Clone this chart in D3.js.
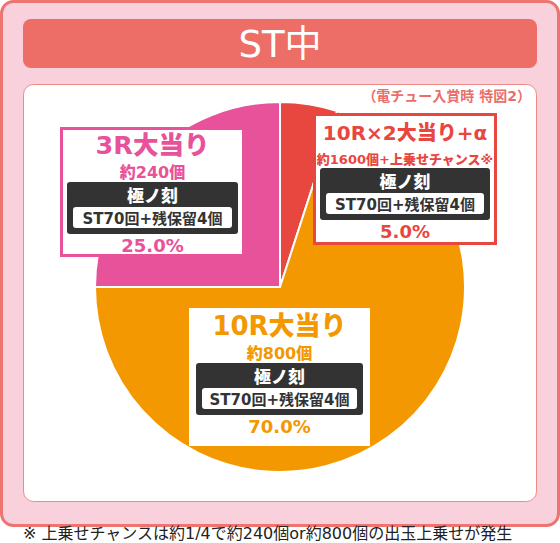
<!DOCTYPE html>
<html>
<head>
<meta charset="utf-8">
<script src="https://cdn.jsdelivr.net/npm/d3@7"></script>
<style>
  html, body { margin: 0; padding: 0; background: #fff; }
  svg { display: block; }
  text { font-family: "DejaVu Sans", "Noto Sans CJK JP", sans-serif; }
</style>
</head>
<body>
<svg id="chart" width="560" height="543"></svg>
<script>
// chart values, in pie order (clockwise from 12 o'clock)
var categories = ['10R×2大当り+α', '10R大当り', '3R大当り'];
var shares = [5.0, 70.0, 25.0];
var payouts = ['約1600個+上乗せチャンス※', '約800個', '約240個'];
var modes = ['極ノ刻', '極ノ刻', '極ノ刻'];
var details = ['ST70回+残保留4個', 'ST70回+残保留4個', 'ST70回+残保留4個'];

var title = 'ST中';
var note = '（電チュー入賞時 特図2）';
var footnote = '※ 上乗せチャンスは約1/4で約240個or約800個の出玉上乗せが発生';

var sliceColors = ['#e8473f', '#f39800', '#e8529a'];

// label box placement, same order as categories
var boxes = [
  { x: 313, y: 113, w: 184, h: 132, titleSize: 20, subSize: 13, border: 3 },
  { x: 189, y: 308, w: 181, h: 138, titleSize: 26, subSize: 16, border: 0 },
  { x: 60, y: 127, w: 185, h: 130, titleSize: 25.5, subSize: 16, border: 3 }
];

var svg = d3.select('#chart');

const cx = 280, cy = 287, radius = 185;

// frame
svg.append('rect')
  .attr('x', 1.5).attr('y', 1.5)
  .attr('width', 557).attr('height', 524)
  .attr('rx', 12)
  .attr('fill', '#f9d1dc')
  .attr('stroke', '#ee7470')
  .attr('stroke-width', 3);

svg.append('rect')
  .attr('x', 23).attr('y', 19)
  .attr('width', 514).attr('height', 49)
  .attr('rx', 8)
  .attr('fill', '#ec6e66');

svg.append('text')
  .attr('x', 280).attr('y', 57)
  .attr('text-anchor', 'middle')
  .attr('font-size', 37)
  .attr('fill', '#fff')
  .text(title);

svg.append('rect')
  .attr('x', 23.5).attr('y', 84.5)
  .attr('width', 513).attr('height', 417)
  .attr('rx', 10)
  .attr('fill', '#fff')
  .attr('stroke', '#f08a84')
  .attr('stroke-width', 1);

svg.append('text')
  .attr('x', 531).attr('y', 101)
  .attr('text-anchor', 'end')
  .attr('font-size', 14)
  .attr('font-weight', 700)
  .attr('fill', '#e8706a')
  .text(note);

// pie
var pie = d3.pie().sort(null).value(d => d);
var arc = d3.arc().innerRadius(0).outerRadius(radius);

svg.append('g')
  .attr('transform', `translate(${cx},${cy})`)
  .selectAll('path')
  .data(pie(shares))
  .enter()
  .append('path')
  .attr('d', arc)
  .attr('fill', (d, i) => sliceColors[i])
  .attr('stroke', '#fff')
  .attr('stroke-width', 2)
  .attr('stroke-linejoin', 'round');

// labels
var labelSel = svg.selectAll('.label')
  .data(categories.map((c, i) => ({ i: i, name: c, box: boxes[i] })))
  .enter()
  .append('g')
  .classed('label', true)
  .attr('transform', d => `translate(${d.box.x},${d.box.y})`);

labelSel.append('rect')
  .attr('x', d => d.box.border / 2)
  .attr('y', d => d.box.border / 2)
  .attr('width', d => d.box.w - d.box.border)
  .attr('height', d => d.box.h - d.box.border)
  .attr('fill', '#fff')
  .attr('stroke', d => sliceColors[d.i])
  .attr('stroke-width', d => d.box.border);

labelSel.append('text')
  .attr('x', d => d.box.w / 2)
  .attr('y', 27)
  .attr('text-anchor', 'middle')
  .attr('font-size', d => d.box.titleSize)
  .attr('font-weight', 900)
  .attr('fill', d => sliceColors[d.i])
  .text(d => d.name);

labelSel.append('text')
  .attr('x', d => d.box.w / 2)
  .attr('y', 51)
  .attr('text-anchor', 'middle')
  .attr('font-size', d => d.box.subSize)
  .attr('font-weight', 900)
  .attr('fill', d => sliceColors[d.i])
  .text(d => payouts[d.i]);

labelSel.append('rect')
  .attr('x', 7).attr('y', 55)
  .attr('width', d => d.box.w - 14)
  .attr('height', 52)
  .attr('rx', 3)
  .attr('fill', '#333333');

labelSel.append('text')
  .attr('x', d => d.box.w / 2)
  .attr('y', 75)
  .attr('text-anchor', 'middle')
  .attr('font-size', 17)
  .attr('font-weight', 900)
  .attr('fill', '#fff')
  .text(d => modes[d.i]);

labelSel.append('rect')
  .attr('x', 13).attr('y', 80)
  .attr('width', d => d.box.w - 26)
  .attr('height', 21)
  .attr('rx', 3)
  .attr('fill', '#fff');

labelSel.append('text')
  .attr('x', d => d.box.w / 2)
  .attr('y', 97)
  .attr('text-anchor', 'middle')
  .attr('font-size', 15)
  .attr('font-weight', 700)
  .attr('fill', '#333')
  .text(d => details[d.i]);

labelSel.append('text')
  .attr('x', d => d.box.w / 2)
  .attr('y', 125)
  .attr('text-anchor', 'middle')
  .attr('font-size', 18)
  .attr('font-weight', 900)
  .attr('fill', d => sliceColors[d.i])
  .text(d => d3.format('.1f')(shares[d.i]) + '%');

svg.append('text')
  .attr('x', 23).attr('y', 539)
  .attr('font-size', 16)
  .attr('fill', '#222')
  .text(footnote);
</script>
</body>
</html>
